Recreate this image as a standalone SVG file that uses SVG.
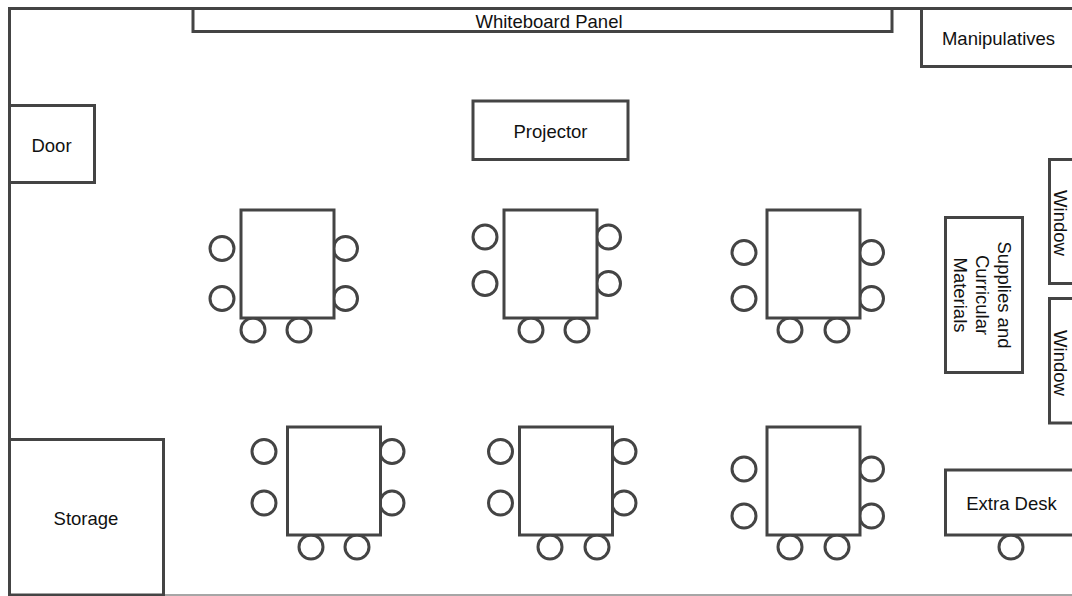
<svg xmlns="http://www.w3.org/2000/svg" width="1072" height="596" viewBox="0 0 1072 596">
<style>
.s{fill:#fff;stroke:#444;stroke-width:3}
.c{fill:#fff;stroke:#444;stroke-width:3}
text{font-family:"Liberation Sans",Arial,sans-serif;font-size:18.500px;fill:#111;text-anchor:middle}
</style>
<rect width="1072" height="596" fill="#fff"/>
<g id="room"><path d="M1072 8.500H9.500V595" fill="none" stroke="#444" stroke-width="3"/><path d="M9 595H1072" fill="none" stroke="#888" stroke-width="1.500"/></g>
<g id="connectors"/>
<g id="whiteboard"><rect class="s" x="193" y="8.500" width="699" height="23"/><text x="549" y="28">Whiteboard Panel</text></g>
<g id="manipulatives"><rect class="s" x="921.500" y="8.500" width="155" height="58"/><text x="998.500" y="45">Manipulatives</text></g>
<g id="door"><rect class="s" x="9.500" y="105.500" width="85" height="77"/><text x="51.500" y="152">Door</text></g>
<g id="projector"><rect class="s" x="473" y="101" width="155" height="58.500"/><text x="550.500" y="138">Projector</text></g>
<g id="storage"><rect class="s" x="9.500" y="439.500" width="154" height="155.500"/><text x="86" y="525">Storage</text></g>
<g id="supplies"><rect class="s" x="945.500" y="217.500" width="77" height="155"/><text transform="translate(998 295) rotate(90)"><tspan x="0" y="0">Supplies and</tspan><tspan x="0" y="22">Curricular</tspan><tspan x="0" y="44">Materials</tspan></text></g>
<g id="window1"><rect class="s" x="1049.500" y="159.500" width="30" height="124"/><text transform="translate(1054 223) rotate(90)">Window</text></g>
<g id="window2"><rect class="s" x="1049.500" y="298.500" width="30" height="124.500"/><text transform="translate(1054 363) rotate(90)">Window</text></g>
<g id="desk1"><circle class="c" cx="222" cy="248.500" r="12"/><circle class="c" cx="222" cy="298.500" r="12"/><circle class="c" cx="345.500" cy="248.500" r="12"/><circle class="c" cx="345.500" cy="298.500" r="12"/><circle class="c" cx="253" cy="330" r="12"/><circle class="c" cx="299" cy="330" r="12"/><rect class="s" x="241" y="210" width="93" height="108"/></g>
<g id="desk2"><circle class="c" cx="485" cy="237" r="12"/><circle class="c" cx="485" cy="283.500" r="12"/><circle class="c" cx="608.500" cy="237" r="12"/><circle class="c" cx="608.500" cy="283.500" r="12"/><circle class="c" cx="531" cy="330" r="12"/><circle class="c" cx="577" cy="330" r="12"/><rect class="s" x="504" y="210" width="93" height="108"/></g>
<g id="desk3"><circle class="c" cx="744" cy="252.500" r="12"/><circle class="c" cx="744" cy="298.500" r="12"/><circle class="c" cx="871.500" cy="252.500" r="12"/><circle class="c" cx="871.500" cy="298.500" r="12"/><circle class="c" cx="790" cy="330" r="12"/><circle class="c" cx="837" cy="330" r="12"/><rect class="s" x="767" y="210" width="93" height="108"/></g>
<g id="desk4"><circle class="c" cx="264" cy="451.500" r="12"/><circle class="c" cx="264" cy="503" r="12"/><circle class="c" cx="392" cy="451.500" r="12"/><circle class="c" cx="392" cy="503" r="12"/><circle class="c" cx="311" cy="547" r="12"/><circle class="c" cx="357" cy="547" r="12"/><rect class="s" x="287.500" y="427" width="93" height="108"/></g>
<g id="desk5"><circle class="c" cx="500.500" cy="451.500" r="12"/><circle class="c" cx="500.500" cy="503" r="12"/><circle class="c" cx="624" cy="451.500" r="12"/><circle class="c" cx="624" cy="503" r="12"/><circle class="c" cx="550" cy="547" r="12"/><circle class="c" cx="597" cy="547" r="12"/><rect class="s" x="519.500" y="427" width="93" height="108"/></g>
<g id="desk6"><circle class="c" cx="744" cy="469" r="12"/><circle class="c" cx="744" cy="516" r="12"/><circle class="c" cx="871.500" cy="469" r="12"/><circle class="c" cx="871.500" cy="516" r="12"/><circle class="c" cx="790" cy="547" r="12"/><circle class="c" cx="837" cy="547" r="12"/><rect class="s" x="767" y="427" width="93" height="108"/></g>
<g id="extra-desk"><circle class="c" cx="1011" cy="547" r="12"/><rect class="s" x="945.500" y="470" width="132" height="65"/><text x="1011.500" y="510">Extra Desk</text></g>
</svg>
